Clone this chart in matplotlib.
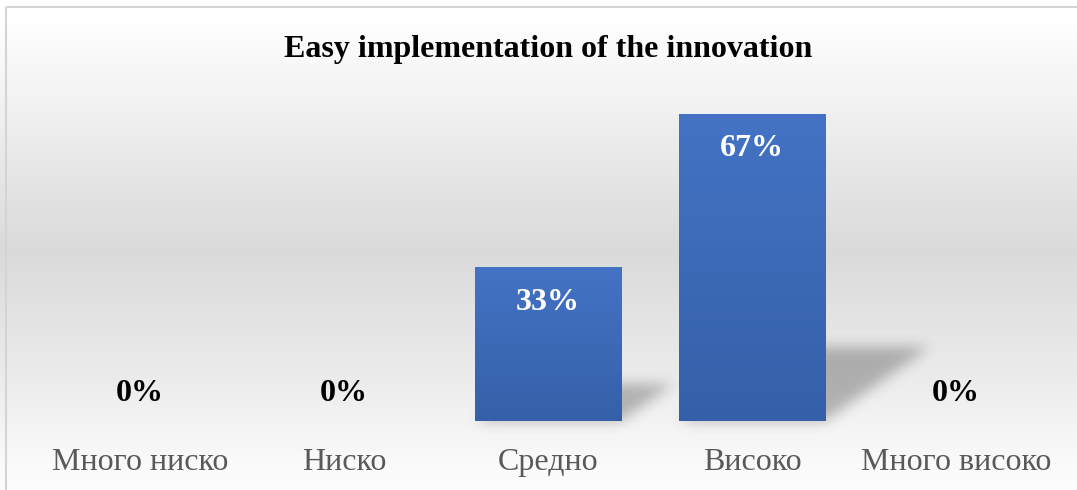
import numpy as np
import matplotlib
matplotlib.use("Agg")
import matplotlib.pyplot as plt
from matplotlib.colors import LinearSegmentedColormap
from matplotlib.patches import Rectangle
from matplotlib.path import Path

plt.rcParams['font.family'] = ['Liberation Serif', 'DejaVu Serif']

# data
categories = ['Много ниско', 'Ниско', 'Средно', 'Високо', 'Много високо']
values = [0, 0, 33.3, 66.7, 0]
value_labels = ['0%', '0%', '33%', '67%', '0%']
title = 'Easy implementation of the innovation'

W, H = 1077, 490
fig = plt.figure(figsize=(W / 100, H / 100), dpi=100)

# background gradient (white -> grey -> white)
bg = fig.add_axes([0, 0, 1, 1], zorder=0)
rows = np.arange(H)
stops_y = [0, 20, 100, 250, 380, 470, 490]
stops_v = [1.0, 1.0, 0.95, 0.855, 0.925, 0.985, 0.99]
col = np.interp(rows, stops_y, stops_v)
grad = np.repeat(col[:, None], 4, axis=1)
bg.imshow(np.dstack([grad, grad, grad]), aspect='auto', extent=(0, W, H, 0))
bg.set_xlim(0, W)
bg.set_ylim(H, 0)
bg.axis('off')
# outer frame
bg.add_patch(Rectangle((6, 7), W + 20, H + 20, fill=False, ec='#d4d4d4', lw=1.5))

# main axes, positioned in pixels
ax_l, ax_r, base, top = 38, 1058, 421, 99
ax = fig.add_axes([ax_l / W, (H - base) / H, (ax_r - ax_l) / W, (base - top) / H], zorder=1)
ax.patch.set_alpha(0)
ymax = 70
ax.set_ylim(0, ymax)
ax.set_xlim(-0.5, len(categories) - 0.5)

x = np.arange(len(categories))
bars = ax.bar(x, values, width=0.716, color='none', zorder=3)

px_x = (ax_r - ax_l) / len(categories)   # pixels per category
px_y = (base - top) / ymax                # pixels per unit

blue = LinearSegmentedColormap.from_list('blue', ['#3560a9', '#4473c5'])
mask = np.zeros((H, W))
gx, gy = np.meshgrid(np.arange(W) + 0.5, np.arange(H) + 0.5)
pts = np.column_stack([gx.ravel(), (H - gy).ravel()])
for b, v in zip(bars, values):
    if v <= 0:
        continue
    x0, x1 = b.get_x(), b.get_x() + b.get_width()
    # gradient fill
    ax.imshow(np.linspace(0, 1, 100)[:, None], cmap=blue, origin='lower',
              extent=(x0, x1, 0, v), aspect='auto', zorder=3)
    # perspective shadow outline in data coords -> pixels
    dx = 0.34 * v * px_y / px_x
    sh = 0.24 * v
    poly = np.array([(x0, 0), (x1, 0), (x1 + dx, sh), (x0 + dx, sh)])
    disp = ax.transData.transform(poly)
    inside = Path(disp).contains_points(pts).reshape(H, W)
    mask = np.maximum(mask, inside.astype(float))

# blur the shadow mask
k = np.exp(-0.5 * (np.arange(-20, 21) / 6.5) ** 2)
k /= k.sum()
mask = np.apply_along_axis(lambda r: np.convolve(r, k, mode='same'), 1, mask)
mask = np.apply_along_axis(lambda c: np.convolve(c, k, mode='same'), 0, mask)
shadow = np.zeros((H, W, 4))
shadow[..., 3] = mask * 0.26
bg.imshow(shadow, extent=(0, W, H, 0), aspect='auto', zorder=2)
bg.set_xlim(0, W)
bg.set_ylim(H, 0)

for xi, v, lab in zip(x, values, value_labels):
    if v <= 0:
        ax.annotate(lab, (xi, v), xytext=(0, 20), textcoords='offset points',
                    ha='center', va='center', fontsize=23, fontweight='bold',
                    color='black', zorder=4)
    else:
        ax.annotate(lab, (xi, v), xytext=(0, -25), textcoords='offset points',
                    ha='center', va='center', fontsize=23, fontweight='bold',
                    color='white', zorder=4)

ax.set_xticks(x, categories)
ax.tick_params(axis='x', length=0, pad=19.5, labelsize=23, labelcolor='#595959')
ax.set_yticks([])
for s in ax.spines.values():
    s.set_visible(False)

fig.text(548 / W, 1 - 50 / H, title, ha='center', va='center',
         fontsize=23, fontweight='bold', color='black')

fig.savefig('out.png', dpi=100)
